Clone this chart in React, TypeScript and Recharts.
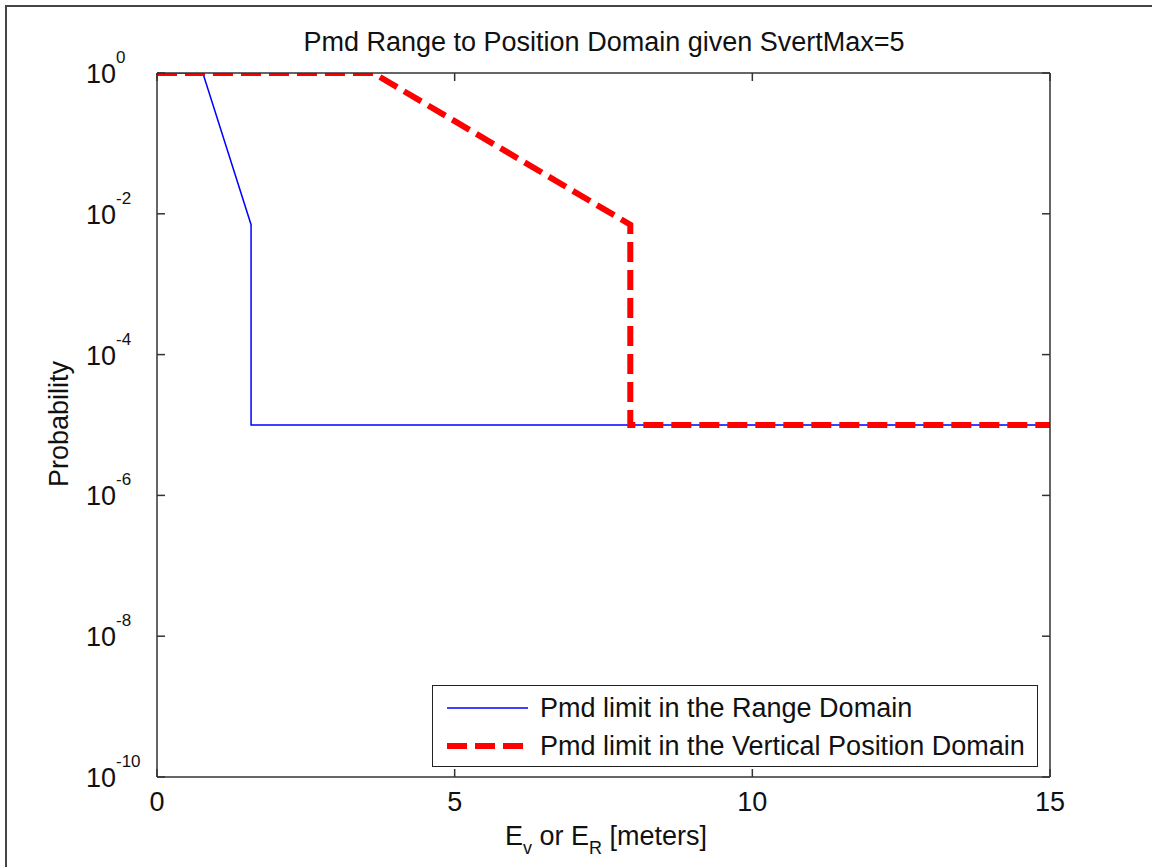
import { LineChart, Line, XAxis, YAxis } from 'recharts';

// Pmd limit curves (x in meters, probability on a log axis)
const rangeX = [0, 0.77, 1.58, 1.58, 15];
const rangeP = [1, 1, 7e-3, 1e-5, 1e-5];
const vertX = [0, 3.63, 7.95, 7.95, 15];
const vertP = [1, 1, 7e-3, 1e-5, 1e-5];

const xTicks = [0, 5, 10, 15];
const yTicks = [1e-10, 1e-8, 1e-6, 1e-4, 1e-2, 1];

const seriesNames = ['Pmd limit in the Range Domain', 'Pmd limit in the Vertical Position Domain'];

const rangeData = rangeX.map((x, i) => ({ x, p: rangeP[i] }));
const vertData = vertX.map((x, i) => ({ x, p: vertP[i] }));

const FONT = '"Liberation Sans", Arial, sans-serif';
const FS = 27;
const TEXT = '#111';
const AXIS = '#333';
const TICK_LEN = 8;

const BottomTick = ({ x, y, payload }: any) => (
  <g>
    <line x1={x} y1={y} x2={x} y2={y - TICK_LEN} stroke={AXIS} strokeWidth={1.5} />
    <text x={x} y={y + 34} textAnchor="middle" fontFamily={FONT} fontSize={FS} fill={TEXT}>
      {payload.value}
    </text>
  </g>
);

const TopTick = ({ x, y }: any) => (
  <line x1={x} y1={y} x2={x} y2={y + TICK_LEN} stroke={AXIS} strokeWidth={1.5} />
);

const LeftTick = ({ x, y, payload }: any) => {
  const exp = Math.round(Math.log10(payload.value));
  return (
    <g>
      <line x1={x} y1={y} x2={x + TICK_LEN} y2={y} stroke={AXIS} strokeWidth={1.5} />
      <text x={x - 41} y={y + 10} textAnchor="end" fontFamily={FONT} fontSize={FS} fill={TEXT}>
        10
      </text>
      <text x={x - 41} y={y - 10} textAnchor="start" fontFamily={FONT} fontSize={17} fill={TEXT}>
        {exp}
      </text>
    </g>
  );
};

const RightTick = ({ x, y }: any) => (
  <line x1={x} y1={y} x2={x - TICK_LEN} y2={y} stroke={AXIS} strokeWidth={1.5} />
);

const LegendBox = () => (
  <div
    style={{
      position: 'absolute',
      left: 432,
      top: 685,
      width: 606,
      height: 82,
      border: '1.5px solid #222',
      background: '#fff',
      fontFamily: FONT,
      fontSize: FS,
      color: TEXT,
      boxSizing: 'border-box',
    }}
  >
    <div style={{ display: 'flex', alignItems: 'center', height: 38, marginTop: 3 }}>
      <svg width={107} height={20}>
        <line x1={14} y1={10} x2={95} y2={10} stroke="#0000ff" strokeWidth={1.5} />
      </svg>
      <span>{seriesNames[0]}</span>
    </div>
    <div style={{ display: 'flex', alignItems: 'center', height: 38 }}>
      <svg width={107} height={20}>
        <line x1={14} y1={10} x2={95} y2={10} stroke="#ff0000" strokeWidth={6} strokeDasharray="20 8" />
      </svg>
      <span>{seriesNames[1]}</span>
    </div>
  </div>
);

export default function App() {
  return (
    <div
      style={{
        position: 'absolute',
        left: 0,
        top: 0,
        width: 1152,
        height: 867,
        background: '#fff',
        overflow: 'hidden',
      }}
    >
      <div
        style={{
          position: 'absolute',
          left: 5,
          top: 5,
          right: -10,
          bottom: -10,
          borderTop: '2px solid #444',
          borderLeft: '2px solid #444',
        }}
      />
      <svg width={1152} height={867} style={{ position: 'absolute', left: 0, top: 0 }}>
        <text x={604} y={51} textAnchor="middle" fontFamily={FONT} fontSize={FS} fill={TEXT}>
          Pmd Range to Position Domain given SvertMax=5
        </text>
        <text x={606} y={845} textAnchor="middle" fontFamily={FONT} fontSize={FS} fill={TEXT}>
          <tspan>E</tspan>
          <tspan fontSize={18} dy={9}>v</tspan>
          <tspan dy={-9}> or E</tspan>
          <tspan fontSize={18} dy={9}>R</tspan>
          <tspan dy={-9}> [meters]</tspan>
        </text>
        <text
          x={68}
          y={424}
          textAnchor="middle"
          transform="rotate(-90 68 424)"
          fontFamily={FONT}
          fontSize={FS}
          fill={TEXT}
        >
          Probability
        </text>
      </svg>
      <div style={{ position: 'absolute', left: 0, top: 0 }}>
        <LineChart width={1152} height={867} margin={{ top: 72, right: 101, bottom: 89, left: 156 }}>
          <XAxis
            dataKey="x"
            type="number"
            domain={[0, 15]}
            ticks={xTicks}
            height={1}
            tickSize={0}
            tickMargin={0}
            tickLine={false}
            tick={<BottomTick />}
            axisLine={{ stroke: AXIS, strokeWidth: 1.5 }}
            allowDataOverflow
          />
          <XAxis
            xAxisId="top"
            orientation="top"
            dataKey="x"
            type="number"
            domain={[0, 15]}
            ticks={xTicks}
            height={1}
            tickSize={0}
            tickMargin={0}
            tickLine={false}
            tick={<TopTick />}
            axisLine={{ stroke: AXIS, strokeWidth: 1.5 }}
            allowDataOverflow
          />
          <YAxis
            dataKey="p"
            type="number"
            scale="log"
            domain={[1e-10, 1]}
            ticks={yTicks}
            width={1}
            tickSize={0}
            tickMargin={0}
            tickLine={false}
            tick={<LeftTick />}
            axisLine={{ stroke: AXIS, strokeWidth: 1.5 }}
            allowDataOverflow
          />
          <YAxis
            yAxisId="right"
            orientation="right"
            dataKey="p"
            type="number"
            scale="log"
            domain={[1e-10, 1]}
            ticks={yTicks}
            width={1}
            tickSize={0}
            tickMargin={0}
            tickLine={false}
            tick={<RightTick />}
            axisLine={{ stroke: AXIS, strokeWidth: 1.5 }}
            allowDataOverflow
          />
          <Line
            data={rangeData}
            dataKey="p"
            name={seriesNames[0]}
            type="linear"
            stroke="#0000ff"
            strokeWidth={1.5}
            dot={false}
            activeDot={false}
            isAnimationActive={false}
          />
          <Line
            data={vertData}
            dataKey="p"
            name={seriesNames[1]}
            type="linear"
            stroke="#ff0000"
            strokeWidth={6}
            strokeDasharray="20 8"
            dot={false}
            activeDot={false}
            isAnimationActive={false}
          />
        </LineChart>
      </div>
      <LegendBox />
    </div>
  );
}
